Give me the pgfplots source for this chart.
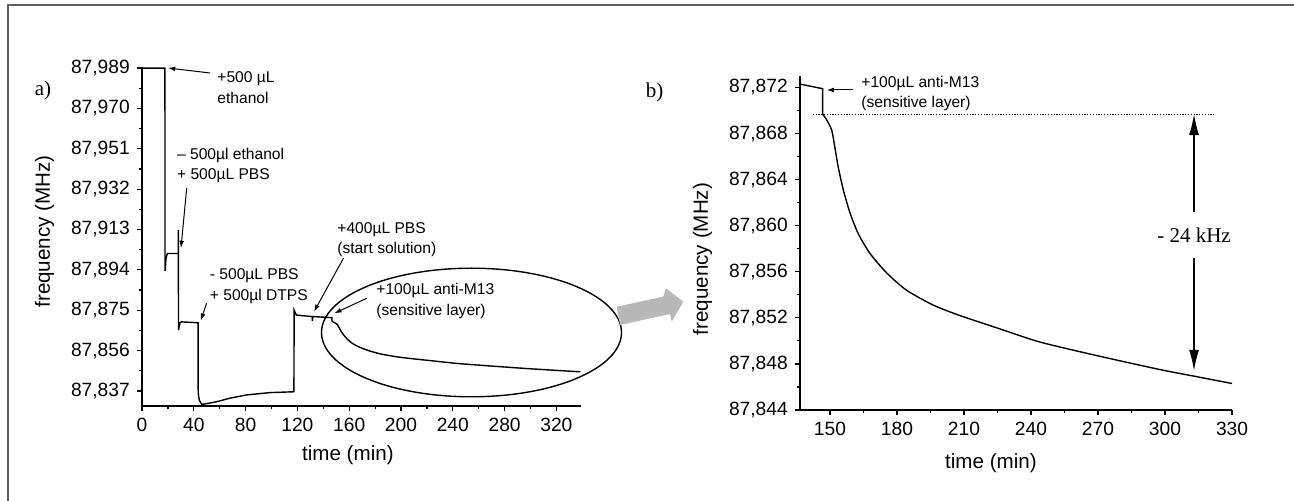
\documentclass[border=0pt]{standalone}
\usepackage{pgfplots}
\pgfplotsset{compat=1.18}
\usepackage{fontspec}
\setmainfont{Liberation Sans}
\newfontfamily\serif{Liberation Serif}
\usetikzlibrary{arrows.meta}

\pgfplotsset{
  myax/.style={
    scale only axis,
    axis lines=left,
    axis line style={-, line width=0.7pt},
    tick align=outside,
    major tick length=2.6pt,
    minor tick length=1.6pt,
    every tick/.style={line width=0.6pt, black},
    minor x tick num=1, minor y tick num=1,
    /pgf/number format/assume math mode=true,
    y tick label style={/pgf/number format/.cd, use comma, fixed, fixed zerofill, precision=3, 1000 sep={}},
    x tick label style={/pgf/number format/.cd, 1000 sep={}},
    tick label style={font=\fontsize{9.6}{11}\selectfont},
    label style={font=\fontsize{10.3}{12}\selectfont},
    xlabel style={anchor=center},
    ylabel style={anchor=center},
    clip=false,
  },
}
\tikzset{ann/.style={font=\fontsize{7.8}{10.3}\selectfont, align=left, anchor=west, inner sep=0pt}}

\begin{document}
\begin{tikzpicture}
\begin{scope}[x=0.5pt,y=-0.5pt]
\draw[color={rgb,255:red,95;green,95;blue,95}, line width=1pt] (8.3,501) -- (8.3,5.5) -- (1294,5.5);
\end{scope}

% ---------------- panel a ----------------
\begin{axis}[myax,
  at={(71pt,-203pt)}, anchor=south west,
  width=219.5pt, height=169.5pt,
  xmin=0, xmax=339, ymin=87.8299, ymax=87.9895,
  xtick={0,40,...,320},
  ytick={87.837,87.856,87.875,87.894,87.913,87.932,87.951,87.970,87.989},
  xlabel={time (min)}, ylabel={frequency (MHz)},
  xlabel style={at={(axis description cs:0.469,-0.1445)}},
  ylabel style={at={(axis description cs:-0.222,0.515)}},
]
\addplot[black, line width=0.7pt] coordinates {
(0,87.989) (17.7,87.989) (17.8,87.8935) (18.6,87.8995) (19.6,87.9017) (28.0,87.9017)
(28.05,87.9127) (28.2,87.8656) (29.3,87.8691) (30.5,87.8695) (43.3,87.8691)
(43.4,87.8360) (44.2,87.8327) (46.0,87.8308) (48.0,87.8308) (57.6,87.8319)
(68.0,87.8336) (80.7,87.8351) (98.7,87.8362) (117.3,87.8366) (117.5,87.8750)
(119.2,87.8727) (131.4,87.8720) (131.6,87.8700) (131.8,87.8720) (146.6,87.8715)
(146.7,87.8697)
};
\addplot[black, line width=0.7pt, smooth, tension=0.4] coordinates {
(146.7,87.8697) (148.5,87.8692) (150.8,87.8683) (152.2,87.8668) (153.7,87.8651)
(156.0,87.8631) (159.0,87.8611) (162.7,87.8593) (167.9,87.8576) (175.4,87.8559)
(184.3,87.8544) (196.3,87.8531) (208.2,87.8522) (225.2,87.8511) (244,87.8499)
(270,87.8487) (298,87.8475) (330,87.8463) (338.5,87.8460)
};
\end{axis}

% ---------------- panel b ----------------
\begin{axis}[myax,
  at={(400pt,-205pt)}, anchor=south west,
  width=216pt, height=167pt,
  xmin=136.6, xmax=330, ymin=87.844, ymax=87.873,
  xtick={150,180,...,330},
  ytick={87.844,87.848,87.852,87.856,87.860,87.864,87.868,87.872},
  xlabel={time (min)}, ylabel={frequency (MHz)},
  xlabel style={at={(axis description cs:0.442,-0.1587)}},
  ylabel style={at={(axis description cs:-0.2257,0.452)}},
]
\addplot[black, line width=0.7pt] coordinates {
(136.6,87.8723) (146.7,87.8719) (146.7,87.8697)
};
\addplot[black, line width=0.7pt, smooth, tension=0.4] coordinates {
(146.7,87.8697) (148.5,87.8692) (150.8,87.8683) (152.2,87.8668) (153.7,87.8651)
(156.0,87.8631) (159.0,87.8611) (162.7,87.8593) (167.9,87.8576) (175.4,87.8559)
(184.3,87.8544) (196.3,87.8531) (208.2,87.8522) (225.2,87.8511) (244,87.8499)
(270,87.8487) (298,87.8475) (314,87.8469) (330,87.8463)
};
\draw[line width=0.5pt, dash pattern=on 0.6pt off 0.8pt] (axis cs:142.3,87.8697) -- (axis cs:322.5,87.8697);
\draw[line width=0.7pt, -{Latex[length=10.5pt,width=5pt]}] (axis cs:313,87.8612) -- (axis cs:313,87.8697);
\draw[line width=0.7pt, -{Latex[length=10.5pt,width=5pt]}] (axis cs:313,87.8572) -- (axis cs:313,87.8474);
\node[font=\serif\fontsize{10.5}{12}\selectfont] at (axis cs:313,87.8592) {- 24 kHz};
\end{axis}

% ---------------- annotations (pixel frame) ----------------
\begin{scope}[x=0.5pt,y=-0.5pt]
\node[font=\serif\fontsize{10.5}{12}\selectfont] at (43,90) {a)};
\node[font=\serif\fontsize{10.5}{12}\selectfont] at (654.5,92) {b)};

\node[ann] at (217,87.5) {+500 µL\\ethanol};
\node[ann] at (176.7,165.5) {– 500µl ethanol\\+ 500µL PBS};
\node[ann] at (209.5,286) {- 500µL PBS\\+ 500µl DTPS};
\node[ann] at (337,239.5) {+400µL PBS\\(start solution)};
\node[ann] at (376,301.2) {+100µL anti-M13\\(sensitive layer)};
\node[ann] at (861,93.5) {+100µL anti-M13\\(sensitive layer)};

\begin{scope}[line width=0.5pt, -{Latex[length=3.6pt,width=2.4pt]}]
\draw (210,73) -- (168,68);
\draw (186.7,188) -- (181,248);
\draw (206.7,303) -- (200.7,320.7);
\draw (343.6,258) -- (314,311.7);
\draw (366.7,298.3) -- (334.3,313.3);
\draw (853.3,90) -- (826.7,90);
\end{scope}

\draw[line width=0.7pt] (471.5,332.5) ellipse [x radius=75pt, y radius=32.15pt];
\fill[color={rgb,255:red,184;green,184;blue,184}]
  (616.7,306.7) -- (663.3,296.7) -- (666,288.3) -- (683.3,301.7) -- (671.7,321.7) -- (670,314) -- (620,325) -- cycle;
\end{scope}
\pgfresetboundingbox
\useasboundingbox (0,0) rectangle (647pt,-250.5pt);
\end{tikzpicture}
\end{document}
